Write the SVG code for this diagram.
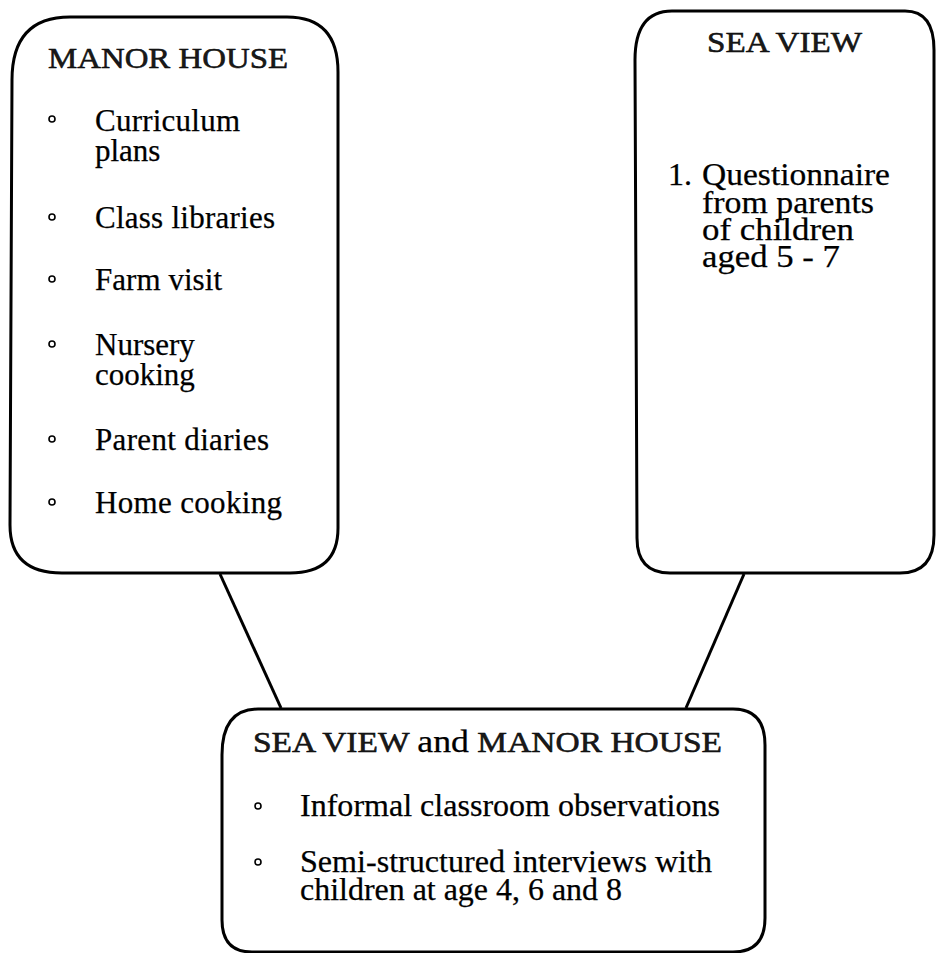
<svg xmlns="http://www.w3.org/2000/svg" width="936" height="953" viewBox="0 0 936 953">
<style>
.box{fill:none;stroke:#000;stroke-width:3;stroke-linejoin:round}
.con{stroke:#000;stroke-width:3;fill:none}
.t{font-family:"Liberation Serif","Times New Roman",serif;font-size:31px;fill:#000;stroke:#000;stroke-width:0.25}
.s{font-size:32px}
.h{font-family:"Liberation Serif","Times New Roman",serif;font-size:29px;fill:#1a1a1a;stroke:#000;stroke-width:0.5}
.a{fill:#000;stroke:#000;stroke-width:0.25;font-size:31px}
.b{fill:none;stroke:#000;stroke-width:1.6}
</style>
<rect width="936" height="953" fill="#fff"/>
<g id="connectors">
<line class="con" x1="220" y1="574" x2="281" y2="708"/>
<line class="con" x1="744" y1="574" x2="686" y2="708"/>
</g>
<g id="manor-house">
<path class="box" d="M70,17 L287,17 Q338,17 338,72 L338,528 Q338,573 290,573 L62,573 Q10,573 10,525 L12,80 Q12,17 70,17 Z"/>
<text class="h" x="48" y="68" textLength="240" lengthAdjust="spacingAndGlyphs">MANOR HOUSE</text>
<circle class="b" cx="52" cy="119" r="3"/>
<text class="t" x="95" y="131" textLength="145">Curriculum</text>
<text class="t" x="95" y="161">plans</text>
<circle class="b" cx="52" cy="217" r="3"/>
<text class="t" x="95" y="228" textLength="180">Class libraries</text>
<circle class="b" cx="52" cy="279" r="3"/>
<text class="t" x="95" y="290" textLength="127">Farm visit</text>
<circle class="b" cx="52" cy="344" r="3"/>
<text class="t" x="95" y="355">Nursery</text>
<text class="t" x="95" y="385">cooking</text>
<circle class="b" cx="52" cy="439" r="3"/>
<text class="t" x="95" y="450" textLength="174">Parent diaries</text>
<circle class="b" cx="52" cy="502" r="3"/>
<text class="t" x="95" y="513" textLength="187">Home cooking</text>
</g>
<g id="sea-view">
<path class="box" d="M672,11 L905,11 Q934,11 934,50 L934,535 Q934,573 900,573 L670,573 Q637,573 637,538 L635,60 Q635,11 672,11 Z"/>
<text class="h" x="707" y="52" textLength="155" lengthAdjust="spacingAndGlyphs">SEA VIEW</text>
<text class="t s" x="668" y="185">1.</text>
<text class="t s" x="702" y="185" textLength="188" lengthAdjust="spacingAndGlyphs">Questionnaire</text>
<text class="t s" x="702" y="213" textLength="172" lengthAdjust="spacingAndGlyphs">from parents</text>
<text class="t s" x="702" y="240" textLength="152" lengthAdjust="spacingAndGlyphs">of children</text>
<text class="t s" x="702" y="267" textLength="138" lengthAdjust="spacingAndGlyphs">aged 5 - 7</text>
</g>
<g id="sea-view-and-manor-house">
<path class="box" d="M258,709 L733,709 Q765,709 765,745 L765,918 Q765,952 733,952 L252,952 Q222,952 222,920 L222,755 Q222,709 258,709 Z"/>
<text class="h" x="253" y="752" textLength="469" lengthAdjust="spacingAndGlyphs">SEA VIEW <tspan class="a">and</tspan> MANOR HOUSE</text>
<circle class="b" cx="258" cy="806" r="3"/>
<text class="t" x="300" y="816" textLength="420" lengthAdjust="spacingAndGlyphs">Informal classroom observations</text>
<circle class="b" cx="258" cy="862" r="3"/>
<text class="t" x="300" y="872" textLength="412" lengthAdjust="spacingAndGlyphs">Semi-structured interviews with</text>
<text class="t" x="300" y="900" textLength="322" lengthAdjust="spacingAndGlyphs">children at age 4, 6 and 8</text>
</g>
</svg>
